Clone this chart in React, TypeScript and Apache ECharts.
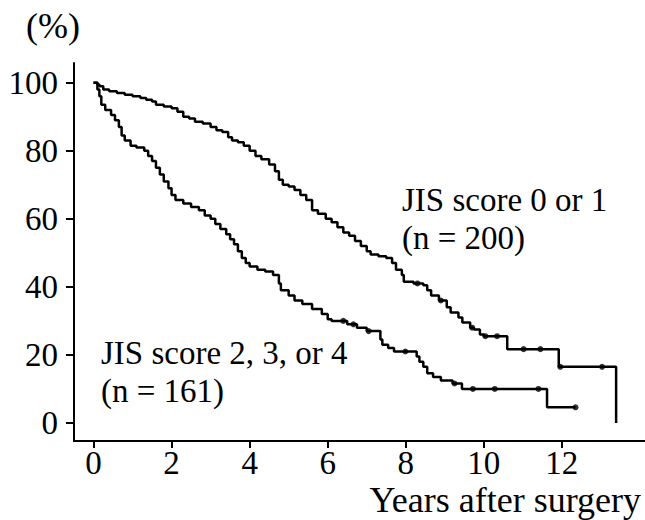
import React, { useEffect, useRef } from "react";
import * as echarts from "echarts";

// Kaplan–Meier steps: [years, survival %] – value holds from this time onward
const lowRiskTimes = [0, 0.1, 0.15, 0.25, 0.4, 0.6, 0.8, 1.0, 1.2, 1.35, 1.5, 1.6, 1.8, 2.0, 2.15, 2.3, 2.45, 2.6, 2.8, 3.0, 3.15, 3.3, 3.45, 3.55, 3.7, 3.85, 4.0, 4.15, 4.3, 4.5, 4.65, 4.75, 4.85, 5.0, 5.15, 5.3, 5.45, 5.6, 5.75, 5.95, 6.1, 6.25, 6.4, 6.55, 6.7, 6.85, 7.0, 7.1, 7.3, 7.5, 7.65, 7.75, 7.9, 7.95, 8.2, 8.45, 8.55, 8.65, 8.85, 9.05, 9.15, 9.35, 9.45, 9.65, 9.75, 9.9, 10.0, 10.6, 11.92, 13.39];
const lowRiskSurvival = [100, 99.5, 99, 98, 97.5, 97, 96.5, 96, 95.5, 95, 94.5, 93.5, 93, 92.5, 91.5, 90, 89.5, 88.5, 88, 87, 86, 85.5, 84, 83, 82.5, 81.5, 80, 78.5, 77.5, 76, 74, 71.5, 70, 69.5, 68.5, 67, 65.5, 62.5, 61.5, 60, 59, 57.5, 56, 55, 53.5, 52, 50.5, 49.5, 49, 48.5, 47, 45, 43.5, 41.5, 41, 40.5, 39, 37.5, 36, 34, 32.5, 31, 29.5, 28, 27.5, 26, 25.5, 21.7, 16.5, 0];
const lowRiskCensorTimes = [8.3, 8.9, 9.7, 10.04, 10.34, 11.02, 11.45, 11.96, 13.03];
const lowRiskCensorValues = [41, 36, 28, 25.5, 25.5, 21.7, 21.7, 16.5, 16.5];

const highRiskTimes = [0, 0.1, 0.15, 0.2, 0.3, 0.45, 0.55, 0.65, 0.72, 0.8, 0.95, 1.1, 1.3, 1.4, 1.5, 1.6, 1.7, 1.8, 1.92, 2.0, 2.1, 2.3, 2.5, 2.7, 2.85, 3.0, 3.12, 3.25, 3.4, 3.5, 3.6, 3.7, 3.8, 3.9, 4.0, 4.2, 4.4, 4.6, 4.75, 4.8, 5.0, 5.15, 5.35, 5.6, 5.85, 6.0, 6.1, 6.5, 6.75, 7.0, 7.35, 7.4, 7.55, 7.7, 8.28, 8.35, 8.45, 8.55, 8.7, 8.9, 9.2, 9.44, 11.62, 12.35];
const highRiskSurvival = [100, 98, 96, 93.5, 92, 90.5, 89, 87, 84.5, 83, 81.5, 81, 80, 78.5, 77, 75, 73, 71, 69, 67, 65.5, 64.5, 63.5, 62.5, 61, 60, 58.5, 57, 55.5, 54, 52.5, 50.5, 48.5, 47, 46, 45, 44.5, 43.5, 41, 39, 37.5, 36, 35, 33.5, 32, 30.5, 30, 29, 28, 27, 24.5, 23, 22, 21, 19.5, 18, 16.5, 14.6, 13.5, 12.5, 11.6, 10, 4.6, 4.6];
const highRiskCensorTimes = [6.4, 6.66, 7.05, 7.99, 9.25, 9.72, 10.28, 11.4, 12.35];
const highRiskCensorValues = [30, 29, 27, 21, 11.6, 10, 10, 10, 4.6];

const xTicks = [0, 2, 4, 6, 8, 10, 12];
const yTicks = [0, 20, 40, 60, 80, 100];

const FONT = '"Liberation Serif", "Times New Roman", serif';
const FS = 33;
const TITLE_FS = 36;

export default function App() {
  const ref = useRef<HTMLDivElement>(null);
  useEffect(() => {
    if (!ref.current) return;
    const chart = echarts.init(ref.current, null, { renderer: "svg" });
    const zip = (a: number[], b: number[]) => a.map((v, i) => [v, b[i]]);
    const lineStyle = { color: "#000", width: 2.5 };
    chart.setOption({
      animation: false,
      backgroundColor: "#fff",
      grid: { left: 74, right: 0, top: 63, bottom: 79, containLabel: false },
      xAxis: {
        type: "value",
        min: -0.5,
        max: 14.13,
        splitLine: { show: false },
        axisLine: { show: true, onZero: false, lineStyle: { color: "#000", width: 2 } },
        axisTick: { show: true, customValues: xTicks, length: 7, lineStyle: { color: "#000", width: 2 } },
        axisLabel: { customValues: xTicks, color: "#000", fontFamily: FONT, fontSize: FS, margin: 5 },
      },
      yAxis: {
        type: "value",
        min: -5.3,
        max: 105.8,
        splitLine: { show: false },
        axisLine: { show: true, onZero: false, lineStyle: { color: "#000", width: 2 } },
        axisTick: { show: true, customValues: yTicks, length: 8, lineStyle: { color: "#000", width: 2 } },
        axisLabel: { customValues: yTicks, color: "#000", fontFamily: FONT, fontSize: FS, margin: 16 },
      },
      series: [
        {
          type: "line",
          step: "end",
          data: zip(lowRiskTimes, lowRiskSurvival),
          symbol: "none",
          lineStyle,
        },
        {
          type: "line",
          step: "end",
          data: zip(highRiskTimes, highRiskSurvival),
          symbol: "none",
          lineStyle,
        },
        {
          type: "scatter",
          data: zip(lowRiskCensorTimes, lowRiskCensorValues),
          symbol: "circle",
          symbolSize: 6,
          itemStyle: { color: "#000" },
        },
        {
          type: "scatter",
          data: zip(highRiskCensorTimes, highRiskCensorValues),
          symbol: "circle",
          symbolSize: 6,
          itemStyle: { color: "#000" },
        },
      ],
      graphic: [
        { type: "text", left: 26, top: 8, style: { text: "(%)", font: `${TITLE_FS}px ${FONT}`, fill: "#000" } },
        { type: "text", right: 4, top: 482, style: { text: "Years after surgery", font: `${TITLE_FS}px ${FONT}`, fill: "#000" } },
        { type: "text", left: 402, top: 183, style: { text: "JIS score 0 or 1", font: `${FS}px ${FONT}`, fill: "#000" } },
        { type: "text", left: 402, top: 221, style: { text: "(n = 200)", font: `${FS}px ${FONT}`, fill: "#000" } },
        { type: "text", left: 101, top: 336, style: { text: "JIS score 2, 3, or 4", font: `${FS}px ${FONT}`, fill: "#000" } },
        { type: "text", left: 101, top: 374, style: { text: "(n = 161)", font: `${FS}px ${FONT}`, fill: "#000" } },
      ],
    });
    return () => chart.dispose();
  }, []);
  return <div ref={ref} style={{ width: 645, height: 520, position: "absolute", left: 0, top: 0 }} />;
}
